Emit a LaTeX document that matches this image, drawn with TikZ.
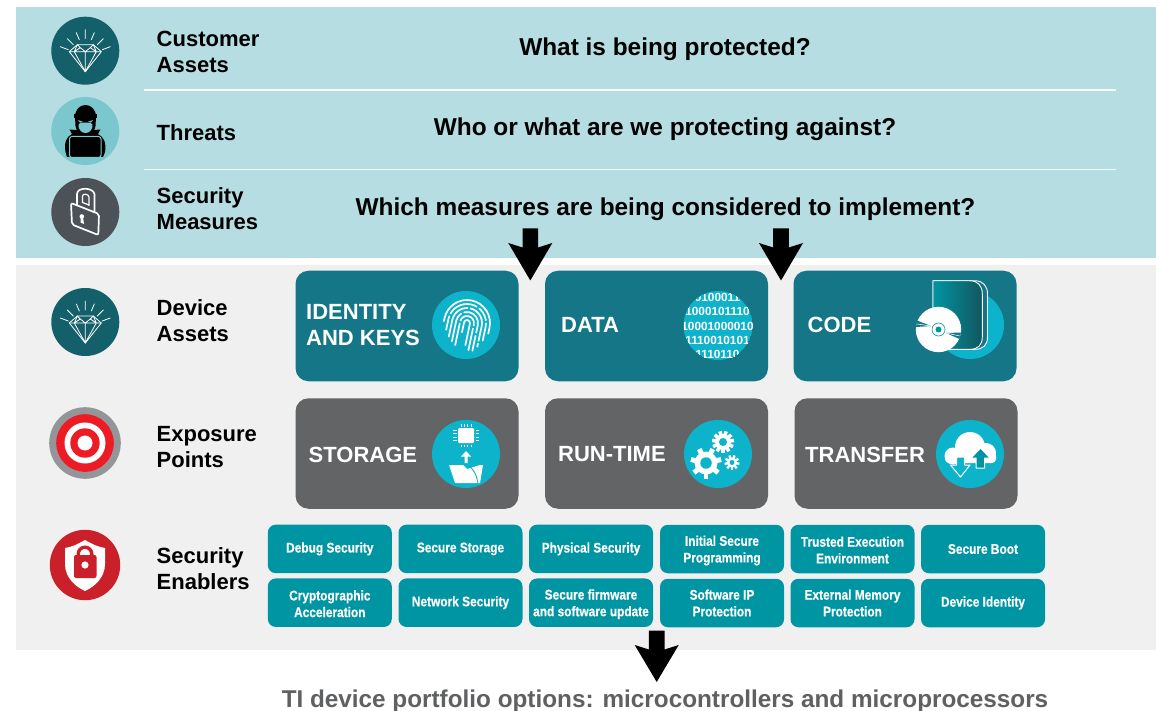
\documentclass[tikz,border=0pt]{standalone}
\usepackage{fontspec}
\setmainfont{Liberation Sans}
\newfontfamily\narrowbold[FakeStretch=0.85,BoldFeatures={FakeBold=0.35}]{Liberation Sans}
\usetikzlibrary{calc}
\definecolor{panelblue}{HTML}{B6DDE2}
\definecolor{panelgray}{HTML}{F0F0F0}
\definecolor{boxteal}{HTML}{147686}
\definecolor{boxgray}{HTML}{636466}
\definecolor{smallteal}{HTML}{0095A3}
\definecolor{iconcyan}{HTML}{0DB3CB}
\definecolor{gemteal}{HTML}{13606A}
\definecolor{thiefbg}{HTML}{7AC7CE}
\definecolor{lockgray}{HTML}{4D5158}
\definecolor{ringgray}{HTML}{939598}
\definecolor{targetred}{HTML}{ED1C24}
\definecolor{shieldred}{HTML}{C9202A}
\definecolor{footgray}{HTML}{5F6062}
\tikzset{
  rowlabel/.style={anchor=west,inner sep=0pt,align=left,font=\fontsize{22}{26}\selectfont\bfseries,text=black},
  headline/.style={anchor=base,inner sep=0pt,font=\fontsize{24.4}{29}\selectfont\bfseries,text=black},
  bigteal/.style={draw=none,fill=boxteal,rounded corners=13pt,minimum width=223pt,minimum height=110.5pt,inner sep=0pt},
  biggray/.style={draw=none,fill=boxgray,rounded corners=13pt,minimum width=223pt,minimum height=110.5pt,inner sep=0pt},
  boxlabel/.style={anchor=west,inner sep=0pt,align=left,text=white,font=\fontsize{22}{26}\selectfont\bfseries},
  smallbox/.style={draw=none,fill=smallteal,rounded corners=8pt,minimum width=124pt,minimum height=48.5pt,inner sep=0pt,
    align=center,text=white,font=\narrowbold\fontsize{14}{16.7}\selectfont\bfseries},
  rule/.style={draw=white,line width=1.3pt},
  gemline/.style={draw=white,line width=0.8pt,line cap=round,line join=round},
}
\newcommand{\pushdown}[1]{\rule{0pt}{#1pt}}
\newcommand{\gemicon}[2]{%
  \begin{scope}[shift={(#1,#2)}]
    \fill[gemteal] (0,0) circle (34);
    \draw[gemline] (0,-21)--(0,-12) (-9,-18)--(-6,-11) (9,-18)--(6,-11)
      (-18,-12)--(-12,-6) (18,-12)--(12,-6) (-25,-4)--(-17,-1) (25,-4)--(17,-1);
    \draw[gemline] (-8,-6)--(8,-6)--(16,1)--(0,21)--(-16,1)--cycle;
    \draw[gemline] (-16,1)--(16,1) (-8,-6)--(-11,1)--(0,21)--(11,1)--(8,-6)
      (-11,1)--(-5,-3)--(0,1)--(5,-3)--(11,1) (-8,-6)--(-5,-3) (8,-6)--(5,-3) (0,1)--(0,21);
  \end{scope}}
\newcommand{\gearicon}[5]{% x y outer inner teeth
  \begin{scope}[shift={(#1,#2)}]
    \fill[white] (0,0) circle (#4);
    \foreach \k in {1,...,#5}{
      \pgfmathsetmacro{\gearang}{360/#5*\k}
      \fill[white,rotate=\gearang] (-#3*0.16,0) rectangle (#3*0.16,#3);
    }
    \fill[iconcyan] (0,0) circle (#4*0.5);
  \end{scope}}
\begin{document}
\begin{tikzpicture}[x=1pt,y=-1pt]
\useasboundingbox (0,0) rectangle (1159,711);
% panels
\fill[panelblue] (16,7) rectangle (1156,258);
\fill[panelgray] (16,265) rectangle (1156,650);
\draw[rule] (144,90)--(1116,90);
\draw[rule] (144,169.5)--(1116,169.5);

% icons, left column
\gemicon{85.3}{50.7}
\gemicon{85.3}{322}
% thief
\fill[thiefbg] (85.3,131) circle (34);
% coat with collar
\fill[black] (65.5,152) .. controls (64,143) and (66,137) .. (72,134) -- (69.5,129.5) -- (76,130) -- (94,130) -- (100.5,129.5) -- (98,134) .. controls (104,137) and (106.5,143) .. (105,152) -- (103,157) -- (67,157) -- cycle;
% head and hat
\fill[black] (75,117) .. controls (75,101) and (96,101) .. (96,117) -- (95.5,126) .. controls (94,133) and (90,135) .. (85.5,135) .. controls (81,135) and (77,133) .. (75.5,126) -- cycle;
\fill[black] (74,114.5) rectangle (97,118);
% lower face
\fill[thiefbg] (78.5,124) .. controls (81,122) and (90,122) .. (92.5,124) .. controls (93,129) and (90,133) .. (85.5,133) .. controls (81,133) and (78,129) .. (78.5,124) -- cycle;
% eye slits
\fill[thiefbg] (78,120) -- (83.5,122) -- (80,122.6) -- cycle;
\fill[thiefbg] (93,120) -- (87.5,122) -- (91,122.6) -- cycle;
% laptop
\draw[thiefbg,line width=1pt,fill=black,rounded corners=2.5pt] (69.5,136.5) rectangle (101,157.5);
% lock
\fill[lockgray] (85.3,212) circle (34);
\draw[white,line width=1.6pt,line join=round] (77,206) -- (77,194) .. controls (77,187) and (93,187) .. (94.5,194) -- (94.5,212);
\draw[white,line width=1.2pt] (82.5,203) -- (82.5,196) .. controls (82.5,193.5) and (88.5,193.5) .. (89,197) -- (89,206);
\draw[white,line width=1.7pt,rounded corners=2pt,line join=round] (71,203) -- (99,214) -- (98.3,235) -- (72,224.5) -- cycle;
\fill[white] (81.8,216.5) circle (2.3);
\fill[white] (80.5,217) -- (83.1,218) -- (84,224) -- (80.6,222.6) -- cycle;
\draw[white,line width=1.2pt] (82.5,202.5) -- (89,205);
% target
\fill[ringgray] (85,443) circle (35.8);
\fill[targetred] (85,443) circle (28.8);
\fill[white] (85,443) circle (20.5);
\fill[targetred] (85,443) circle (14.7);
\fill[white] (85,443) circle (7.5);
% shield
\fill[shieldred] (85,565) circle (35.2);
\fill[white] (85,540) .. controls (78,544) and (72,547) .. (65,548) -- (65,564) .. controls (65,578) and (76,587) .. (85,591) .. controls (94,587) and (105,578) .. (105,564) -- (105,548) .. controls (98,547) and (92,544) .. (85,540) -- cycle;
\draw[shieldred,line width=3.4pt] (78.2,556) -- (78.2,554) arc[start angle=180,end angle=360,radius=6.8] -- (91.8,556);
\fill[shieldred,rounded corners=2pt] (74,555) rectangle (96.5,578);
\fill[white] (85,565) circle (3.6);

% row labels
\node[rowlabel] (customer) at (156.5,52) {Customer\\Assets};
\node[rowlabel] (threats) at (156.5,133) {Threats};
\node[rowlabel] (measures) at (156.5,209) {Security\\Measures};
\node[rowlabel] (device) at (156.5,321) {Device\\Assets};
\node[rowlabel] (exposure) at (156.5,447) {Exposure\\Points};
\node[rowlabel] (enablers) at (156.5,569) {Security\\Enablers};

% headlines
\node[headline] (qone) at (665,56) {What is being protected?};
\node[headline] (qtwo) at (665,135.5) {Who or what are we protecting against?};
\node[headline] (qthree) at (665.5,215.5) {Which measures are being considered to implement?};

% big boxes
\node[bigteal] (identity) at (407,326) {};
\node[bigteal] (data) at (656.5,326) {};
\node[bigteal] (code) at (905,326) {};
\node[biggray] (storage) at (407,453.5) {};
\node[biggray] (runtime) at (656.5,453.5) {};
\node[biggray] (transfer) at (906,453.5) {};

% box labels
\node[boxlabel] (identitytext) at (306,325) {IDENTITY\\AND KEYS};
\node[boxlabel] (datatext) at (561,324.5) {DATA};
\node[boxlabel] (codetext) at (807.5,324.5) {CODE};
\node[boxlabel] (storagetext) at (308.5,454.5) {STORAGE};
\node[boxlabel] (runtimetext) at (558,454.5) {RUN-TIME};
\node[boxlabel] (transfertext) at (805,454.5) {TRANSFER};

% fingerprint
\fill[iconcyan] (466,325) circle (34);
\begin{scope}[shift={(467,323)},rotate=-12,white,line width=1.7pt,line cap=round]
  \draw (-3,10)--(-3,0) arc[start angle=180,end angle=360,radius=3]--(3,22);
  \draw[dash pattern=on 22pt off 3pt] (-7,24)--(-7,0) arc[start angle=180,end angle=360,radius=7]--(7,28);
  \draw[dash pattern=on 30pt off 3pt] (-11,21)--(-11,0) arc[start angle=180,end angle=360,radius=11]--(11,26);
  \draw[dash pattern=on 38pt off 3pt] (-15,17)--(-15,0) arc[start angle=180,end angle=360,radius=15]--(15,21);
  \draw[dash pattern=on 14pt off 3pt on 30pt off 3pt] (-19,11)--(-19,0) arc[start angle=180,end angle=360,radius=19]--(19,14);
  \draw (-23,3)--(-23,0) arc[start angle=180,end angle=360,radius=23]--(23,6);
\end{scope}

% binary
\begin{scope}
  \clip (718,325.5) circle (34.5);
  \fill[iconcyan] (718,325.5) circle (34.5);
  \foreach \yy/\bits in {297/0100011,311.5/1000101110,326/10001000010,340/1110010101,354/1110110}
    \node[inner sep=0pt,text=white,font=\fontsize{11.8}{13}\selectfont\bfseries] at (717.5,\yy) {\bits};
\end{scope}

% code: disc and book
\fill[iconcyan] (970,325) circle (34);
\draw[white,line width=0.9pt,fill=boxteal] (933,280.8) -- (975,280.8) .. controls (983,280.8) and (987.5,286) .. (987.5,294) -- (987.5,337) .. controls (987.5,345) and (983,349.3) .. (975,349.3) -- (933,349.3) -- cycle;
\draw[white,line width=0.9pt,left color=smallteal,right color=black!10!gemteal] (933,280.8) -- (970,280.8) .. controls (978,280.8) and (982.3,286) .. (982.3,294) -- (982.3,337) .. controls (982.3,345) and (978,349.3) .. (970,349.3) -- (933,349.3) -- cycle;
\fill[white] (938.5,329.5) circle (22.7);
\fill[boxteal] (931,326) -- (917,320.5) -- (916,327) -- cycle;
\fill[boxteal] (946,333) -- (961,332.5) -- (959.5,339) -- cycle;
\draw[white,line width=0.5pt] (931,326) -- (917,324) (946,333) -- (960,336);
\draw[smallteal,line width=0.6pt] (938.5,329.5) circle (6.5);
\fill[smallteal] (938.5,329.5) circle (3);

% chip and folder
\fill[iconcyan] (466,454) circle (34);
\fill[white,rounded corners=1.2pt] (458,428) rectangle (474,443);
\foreach \t in {-5,-1.7,1.7,5}{
  \draw[white,line width=1pt] (466+\t,424)--(466+\t,426.5) (466+\t,444.5)--(466+\t,447);
  \draw[white,line width=1pt] (453,435.5+\t)--(456.5,435.5+\t) (475.5,435.5+\t)--(479,435.5+\t);
}
\fill[white] (464.5,463) -- (464.5,456.5) -- (461,456.5) -- (466,451) -- (471,456.5) -- (467.5,456.5) -- (467.5,463) -- cycle;
\fill[white] (449,465) -- (463,465) -- (467,469) -- (480,465) -- (483,465) -- (480,483) -- (455,483) -- cycle;
\draw[iconcyan,line width=0.9pt] (467,464) .. controls (472,468) and (476,472) .. (478,483);

% gears
\fill[iconcyan] (718,454) circle (34);
\gearicon{706}{463}{15.5}{11.5}{7}
\gearicon{723}{442}{11}{8}{11}
\gearicon{732}{462.5}{7.5}{5}{9}

% cloud
\fill[iconcyan] (970,454) circle (34);
\fill[white] (953,456) circle (8.5) (970,447) circle (15) (986,453) circle (10);
\fill[white,rounded corners=4pt] (945,452) rectangle (996,463);
\draw[white,line width=1pt,fill=iconcyan,line join=round] (956.5,457) -- (964.5,457) -- (964.5,465) -- (970,465) -- (960.5,477) -- (950.5,465) -- (956.5,465) -- cycle;
\draw[white,line width=1pt,fill=smallteal,line join=round] (976,468) -- (984.5,468) -- (984.5,458) -- (990,458) -- (980.5,448) -- (971,458) -- (976,458) -- cycle;

% small boxes
\node[smallbox] (debug) at (329.8,548.9) {Debug Security};
\node[smallbox] (storagesec) at (460.5,548.9) {Secure Storage};
\node[smallbox] (physical) at (591,548.9) {Physical Security};
\node[smallbox] (initial) at (722,549) {\pushdown{13.2}Initial Secure\\Programming};
\node[smallbox] (trusted) at (852.5,549) {\pushdown{12.2}Trusted Execution\\Environment};
\node[smallbox] (boot) at (983,549) {Secure Boot};
\node[smallbox] (crypto) at (329.8,602.7) {\pushdown{12.2}Cryptographic\\Acceleration};
\node[smallbox] (network) at (460.5,602.7) {Network Security};
\node[smallbox] (firmware) at (591,602.7) {\pushdown{13.2}Secure firmware\\and software update};
\node[smallbox] (softip) at (722,603) {Software IP\\Protection};
\node[smallbox] (external) at (852.5,603) {External Memory\\Protection};
\node[smallbox] (identitysec) at (983,603) {Device Identity};

% footer
\node[anchor=base,inner sep=0pt,text=footgray,font=\fontsize{24.3}{29}\selectfont\bfseries] (footer) at (665,707) {TI device portfolio options: microcontrollers and microprocessors};

% block arrows
\foreach \cx/\top/\wing/\notch/\tip in {530.3/228.5/243/247.5/280.5,781/228.5/243/247.5/280.5,656.7/630.5/645/649.5/682}{
  \fill[black] (\cx-7.8,\top) -- (\cx+7.8,\top) -- (\cx+7.8,\notch) -- (\cx+22,\wing) -- (\cx,\tip) -- (\cx-22,\wing) -- (\cx-7.8,\notch) -- cycle;
}
\end{tikzpicture}
\end{document}
